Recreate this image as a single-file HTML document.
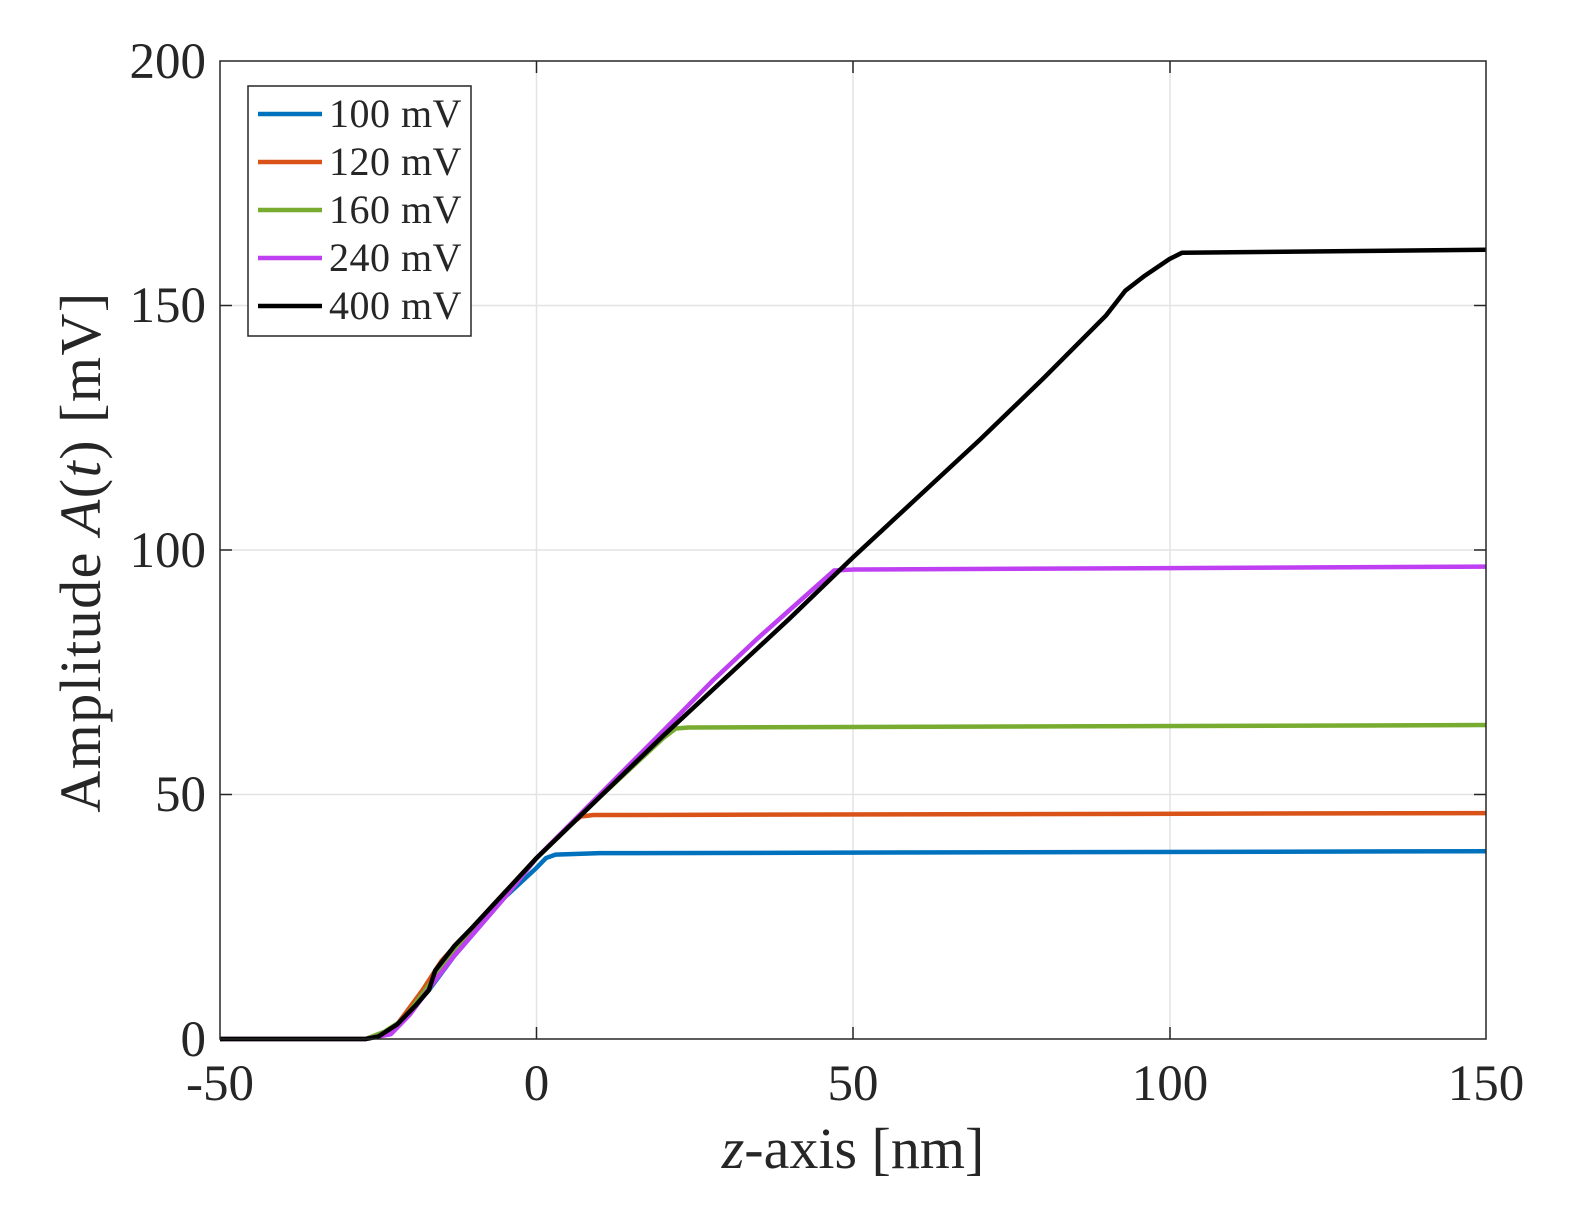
<!DOCTYPE html>
<html><head><style>
body{margin:0;background:#fff}
svg text{font-family:"Liberation Serif",serif;fill:#262626}
</style></head><body>
<svg width="1571" height="1203" xmlns="http://www.w3.org/2000/svg">
<rect width="1571" height="1203" fill="#fff"/>
<g stroke="#e3e3e3" stroke-width="1.5">
<line x1="536.5" y1="61" x2="536.5" y2="1039"/>
<line x1="853" y1="61" x2="853" y2="1039"/>
<line x1="1170" y1="61" x2="1170" y2="1039"/>
<line x1="220" y1="305.5" x2="1486" y2="305.5"/>
<line x1="220" y1="550" x2="1486" y2="550"/>
<line x1="220" y1="794.5" x2="1486" y2="794.5"/>
</g>
<g stroke="#262626" stroke-width="1.5">
<line x1="536.5" y1="1039" x2="536.5" y2="1027"/><line x1="853" y1="1039" x2="853" y2="1027"/><line x1="1170" y1="1039" x2="1170" y2="1027"/>
<line x1="536.5" y1="61" x2="536.5" y2="73"/><line x1="853" y1="61" x2="853" y2="73"/><line x1="1170" y1="61" x2="1170" y2="73"/>
<line x1="220" y1="305.5" x2="232" y2="305.5"/><line x1="220" y1="550" x2="232" y2="550"/><line x1="220" y1="794.5" x2="232" y2="794.5"/>
<line x1="1486" y1="305.5" x2="1474" y2="305.5"/><line x1="1486" y1="550" x2="1474" y2="550"/><line x1="1486" y1="794.5" x2="1474" y2="794.5"/>
</g>
<g transform="translate(536.5,1039) scale(6.33,-4.89)" fill="none" stroke-width="4.5" stroke-linejoin="round">
<polyline vector-effect="non-scaling-stroke" stroke="#0072BD" points="-50,0 -27,0 -24,1 -22,3 -17,10 -13,17 -5,29 0,35 1.5,37 3,37.7 10,38 150,38.4"/>
<polyline vector-effect="non-scaling-stroke" stroke="#D95319" points="-50,0 -27,0 -24,1 -22,3 -18,10 -15,16 -10,23 -5,30 0,37 5,43.5 7,45.5 9,45.8 150,46.2"/>
<polyline vector-effect="non-scaling-stroke" stroke="#77AC30" points="-50,0 -27,0 -24,1.5 -21,4 -17,11 -13,18 -5,29 0,37 10,49.5 20,61.5 22,63.5 24,63.7 150,64.2"/>
<polyline vector-effect="non-scaling-stroke" stroke="#BF3FF2" points="-50,0 -27,0 -23,1 -20,5 -16,12 -13,17 -5,29 0,37 10,50 20,63 28,73.5 35,82 45,93.5 47,95.8 50,96 150,96.6"/>
<polyline vector-effect="non-scaling-stroke" stroke="#000" points="-50,0 -27,0 -25,0.5 -22,3 -19,7 -17,10 -16,14 -13,19 -10,23 -5,30 0,37 10,49.5 20,62 30,74 40,86 50,98.5 60,110.5 70,122.5 80,135 90,148 93,153 96,156 100,159.5 102,160.8 150,161.4"/>
</g>
<rect x="220" y="61" width="1266" height="978" fill="none" stroke="#262626" stroke-width="1.5"/>
<g font-size="51" text-anchor="end">
<text x="206" y="78">200</text><text x="206" y="322">150</text><text x="206" y="567">100</text><text x="206" y="811">50</text><text x="206" y="1056">0</text>
</g>
<g font-size="51" text-anchor="middle">
<text x="220" y="1100">-50</text><text x="536.5" y="1100">0</text><text x="853" y="1100">50</text><text x="1170" y="1100">100</text><text x="1486" y="1100">150</text>
</g>
<g font-size="58" text-anchor="middle">
<text x="853" y="1168"><tspan font-style="italic">z</tspan>-axis [nm]</text>
<text transform="translate(100,552) rotate(-90)" letter-spacing="1.5">Amplitude <tspan font-style="italic">A</tspan>(<tspan font-style="italic">t</tspan>) [mV]</text>
</g>
<rect x="248" y="86" width="223" height="250" fill="#fff" stroke="#262626" stroke-width="1.5"/>
<g stroke-width="4.5">
<line x1="258" y1="114" x2="322" y2="114" stroke="#0072BD"/>
<line x1="258" y1="162" x2="322" y2="162" stroke="#D95319"/>
<line x1="258" y1="210" x2="322" y2="210" stroke="#77AC30"/>
<line x1="258" y1="258" x2="322" y2="258" stroke="#BF3FF2"/>
<line x1="258" y1="306" x2="322" y2="306" stroke="#000"/>
</g>
<g font-size="40" letter-spacing="0.5">
<text x="329" y="127">100 mV</text><text x="329" y="175">120 mV</text><text x="329" y="223">160 mV</text><text x="329" y="271">240 mV</text><text x="329" y="319">400 mV</text>
</g>
</svg>
</body></html>
